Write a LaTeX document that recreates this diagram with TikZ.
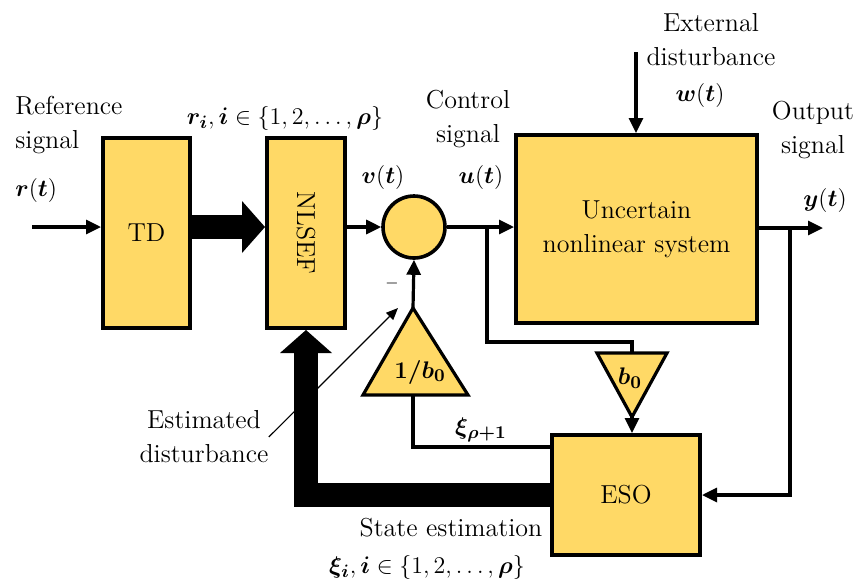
\documentclass[tikz,border=0pt]{standalone}
\usepackage{amsmath,bm}
\usetikzlibrary{arrows.meta,positioning,calc}
\definecolor{blkfill}{HTML}{FFD966}
\tikzset{
  blk/.style={rectangle, draw=black, line width=2pt, fill=blkfill,
    inner sep=0pt, align=center, font=\fontsize{13}{17}\selectfont},
  sumc/.style={circle, draw=black, line width=1.8pt, fill=blkfill,
    minimum size=31pt, inner sep=0pt},
  gainbox/.style={draw=black, line width=1.6pt, fill=blkfill, line join=miter},
  lbl/.style={inner sep=0pt, align=center, font=\fontsize{13}{17}\selectfont},
  conn/.style={-{Triangle[length=7.5pt,width=7pt]}, line width=1.6pt},
  wire/.style={line width=1.6pt},
  fat/.style={-{Triangle[length=11.5pt,width=26pt,line width=0pt]},
    line width=12pt, line join=miter},
  thinarr/.style={-{Triangle[length=6pt,width=5pt]}, line width=0.6pt},
}
\begin{document}
\begin{tikzpicture}[x=0.5pt, y=-0.5pt]
  \useasboundingbox (0,0) rectangle (858,586);

  % --- blocks ---
  \node[blk, minimum width=43.5pt, minimum height=95pt] (td) at (146.5,233) {TD};
  \node[blk, minimum width=39pt, minimum height=95pt] (nlsef) at (306,233) {\rotatebox{-90}{NLSEF}};
  \node[blk, minimum width=120.5pt, minimum height=94pt] (plant) at (636.5,229) {Uncertain\\nonlinear system};
  \node[blk, minimum width=74pt, minimum height=60pt] (eso) at (626,495) {ESO};
  \node[sumc] (sum) at (414,227) {};

  % --- gains ---
  \coordinate (ia) at (413,308);
  \coordinate (ib) at (413,395);
  \draw[gainbox] (363,395) -- (ia) -- (468,395) -- cycle;
  \node[lbl] (invgain) at (420,372) {$\bm{1/b_0}$};
  \coordinate (gt) at (632,353);
  \coordinate (ga) at (632,417);
  \draw[gainbox] (597,353) -- (667,353) -- (ga) -- cycle;
  \node[lbl] (gain) at (630,378) {$\bm{b_0}$};

  % --- labels ---
  \node[lbl, align=left, anchor=west] (refl) at (15,125) {Reference\\signal};
  \node[lbl, anchor=west] (rt) at (15,190) {$\bm{r}(\bm{t})$};
  \node[lbl] (ril) at (285,118) {$\bm{r_i}, \bm{i}\in\{1,2,\dots,\bm{\rho}\}$};
  \node[lbl] (vt) at (383,177) {$\bm{v}(\bm{t})$};
  \node[lbl] (ctl) at (468,119) {Control\\signal};
  \node[lbl] (ut) at (481,177) {$\bm{u}(\bm{t})$};
  \node[lbl] (extl) at (711,40) {External\\disturbance};
  \node[lbl] (wt) at (700,95) {$\bm{w}(\bm{t})$};
  \node[lbl] (outl) at (813,130) {Output\\signal};
  \node[lbl] (yt) at (825,200) {$\bm{y}(\bm{t})$};
  \node[lbl] (minus) at (392,283) {\footnotesize$-$};
  \node[lbl] (estd) at (204,437) {Estimated\\disturbance};
  \node[lbl] (xirho) at (481,430) {$\bm{\xi_{\rho+1}}$};
  \node[lbl] (stl) at (451,528) {State estimation};
  \node[lbl] (xil) at (427,567) {$\bm{\xi_i}, \bm{i}\in\{1,2,\dots,\bm{\rho}\}$};

  % --- connectors ---
  \coordinate (rin) at (32,227);
  \draw[conn] (rin) -- (td.west |- rin);
  \draw[fat] (td.east |- sum) -- (nlsef.west |- sum);
  \draw[conn] (nlsef.east |- sum) -- (sum.west);
  \draw[conn] (sum.east) -- (plant.west |- sum);
  \coordinate (ubr) at (487,227);
  \draw[wire] (ubr) |- (gt |- 0,342) -- (gt);
  \draw[conn] (ga) -- (ga |- eso.north);
  \coordinate (dtop) at (636,52);
  \draw[conn] (dtop) -- (dtop |- plant.north);
  \coordinate (yout) at (823,228);
  \draw[conn] (plant.east |- yout) -- (yout);
  \coordinate (ybr) at (790,228);
  \draw[conn] (ybr) |- (eso.east);
  \draw[conn] (ia) -- (sum.south);
  \draw[wire] (ib) |- (eso.west |- 0,447);
  \draw[fat] (eso.west) -| (nlsef.south);
  \coordinate (esttip) at (398,308);
  \draw[thinarr] (estd.east) -- (esttip);
\end{tikzpicture}
\end{document}
